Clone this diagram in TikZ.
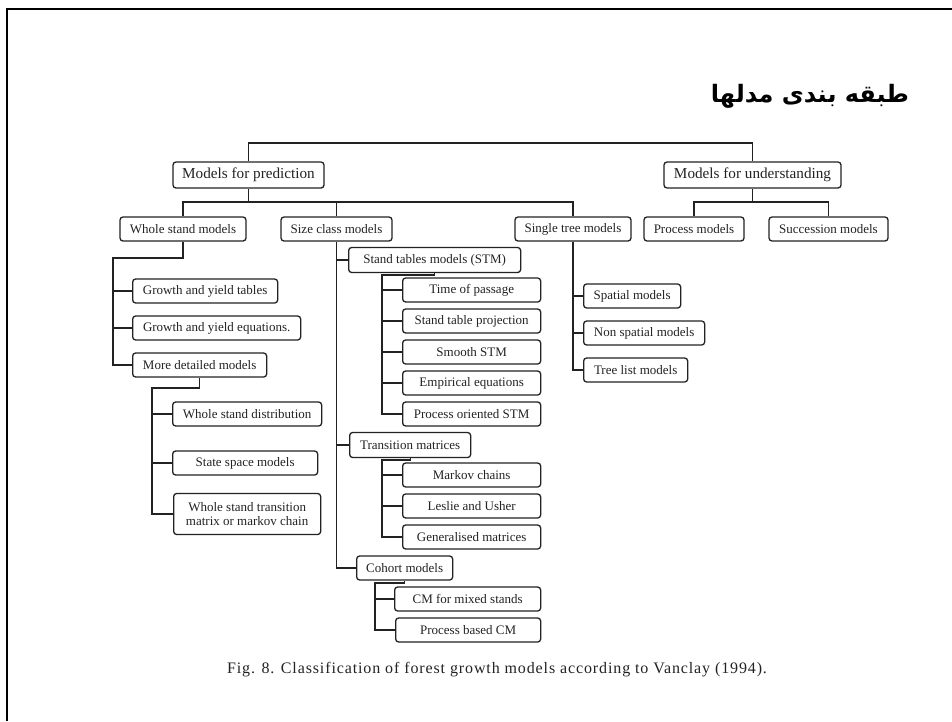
\documentclass[tikz,border=0pt]{standalone}
\usepackage{fontspec}
\setmainfont{Liberation Serif}
\newfontfamily\arabicfont[Script=Arabic]{DejaVu Sans}
\newfontfamily\captionfont[LetterSpace=5.5]{Liberation Serif}
\TeXXeTstate=1
\usetikzlibrary{positioning}
\definecolor{ink}{HTML}{222222}

\begin{document}
\begin{tikzpicture}[x=1pt,y=-1pt,line width=1.3pt,draw=ink,
  box/.style={draw=ink,rounded corners=3pt,minimum height=24,inner xsep=2pt,inner ysep=0pt,text=ink,font=\fontsize{13}{14.5}\selectfont},
  topbox/.style={box,minimum height=26,font=\fontsize{15.2}{17}\selectfont},
  leaf/.style={box,anchor=west}]
\useasboundingbox (0,0) rectangle (952,721);
\draw[line width=2.4pt,black] (7,721)--(7,9)--(952,9);
\node[font=\arabicfont\bfseries\fontsize{24}{28}\selectfont] (title) at (810,96) {\beginR طبقه بندی مدلها\endR};

% top level
\node[topbox,minimum width=151] (pred) at (248.5,175) {Models for prediction};
\node[topbox,minimum width=177] (und) at (752.5,175) {Models for understanding};
\coordinate (root) at (500,143);
\draw (pred.north) |- (root) -| (und.north);

% second level
\node[box,minimum width=126] (whole) at (183,229) {Whole stand models};
\node[box,minimum width=111] (size) at (336.5,229) {Size class models};
\node[box,minimum width=116] (single) at (573,229) {Single tree models};
\node[box,minimum width=100] (proc) at (694,229) {Process models};
\node[box,minimum width=119] (succ) at (828.5,229) {Succession models};
\coordinate (predbar) at (248.5,202);
\coordinate (undbar) at (752.5,202);
\draw (pred.south) -- (predbar);
\draw (whole.north) |- (predbar) -| (single.north);
\draw (size.north) -- (size.north |- predbar);
\draw (und.south) -- (undbar);
\draw (proc.north) |- (undbar) -| (succ.north);

% whole stand models
\node[leaf,minimum width=145] (gyt) at (132,291) {Growth and yield tables};
\node[leaf,minimum width=168] (gye) at (132,328) {Growth and yield equations.};
\node[leaf,minimum width=134] (mdm) at (132,365) {More detailed models};
\coordinate (wholebar) at (113,258);
\draw (whole.south) |- (wholebar) |- (mdm.west);
\draw (gyt.west) -- (gyt.west -| wholebar);
\draw (gye.west) -- (gye.west -| wholebar);

\node[leaf,minimum width=149] (wsd) at (172,414) {Whole stand distribution};
\node[leaf,minimum width=145] (ssm) at (172,463) {State space models};
\node[leaf,minimum width=147,minimum height=41,align=center] (wstm) at (173,514) {Whole stand transition\\matrix or markov chain};
\coordinate (mdmbar) at (152,388);
\draw (mdm.south) |- (mdmbar) |- (wstm.west);
\draw (wsd.west) -- (wsd.west -| mdmbar);
\draw (ssm.west) -- (ssm.west -| mdmbar);

% size class models
\node[leaf,minimum width=172,minimum height=25] (stm) at (348,260) {Stand tables models (STM)};
\node[leaf,minimum width=121,minimum height=25] (tm) at (349,445) {Transition matrices};
\node[leaf,minimum width=96] (cm) at (356,568) {Cohort models};
\draw (size.south) |- (cm.west);
\draw (stm.west) -- (stm.west -| size.south);
\draw (tm.west) -- (tm.west -| size.south);

\node[leaf,minimum width=138] (tp) at (402,290) {Time of passage};
\node[leaf,minimum width=138] (stp) at (402,321) {Stand table projection};
\node[leaf,minimum width=138] (sstm) at (402,352) {Smooth STM};
\node[leaf,minimum width=138] (ee) at (402,383) {Empirical equations};
\node[leaf,minimum width=138] (postm) at (402,414) {Process oriented STM};
\coordinate (stmbar) at (382,275);
\draw (stm.south) |- (stmbar) |- (postm.west);
\foreach \n in {tp,stp,sstm,ee}
  \draw (\n.west) -- (\n.west -| stmbar);

\node[leaf,minimum width=138] (mc) at (402,475) {Markov chains};
\node[leaf,minimum width=138] (lu) at (402,506) {Leslie and Usher};
\node[leaf,minimum width=138] (gm) at (402,537) {Generalised matrices};
\coordinate (tmbar) at (382,460);
\draw (tm.south) |- (tmbar) |- (gm.west);
\foreach \n in {mc,lu}
  \draw (\n.west) -- (\n.west -| tmbar);

\node[leaf,minimum width=146] (cmm) at (394,599) {CM for mixed stands};
\node[leaf,minimum width=145] (pbcm) at (395,630) {Process based CM};
\coordinate (cmbar) at (375,583);
\draw (cm.south) |- (cmbar) |- (pbcm.west);
\draw (cmm.west) -- (cmm.west -| cmbar);

% single tree models
\node[leaf,minimum width=97] (sp) at (583,296) {Spatial models};
\node[leaf,minimum width=121] (nsp) at (583,333) {Non spatial models};
\node[leaf,minimum width=104] (tlm) at (583,370) {Tree list models};
\draw (single.south) |- (tlm.west);
\draw (sp.west) -- (sp.west -| single.south);
\draw (nsp.west) -- (nsp.west -| single.south);

\node[text=ink,font=\captionfont\fontsize{16}{18}\selectfont] (caption) at (497,670) {Fig. 8. Classification of forest growth models according to Vanclay (1994).};
\end{tikzpicture}
\end{document}
